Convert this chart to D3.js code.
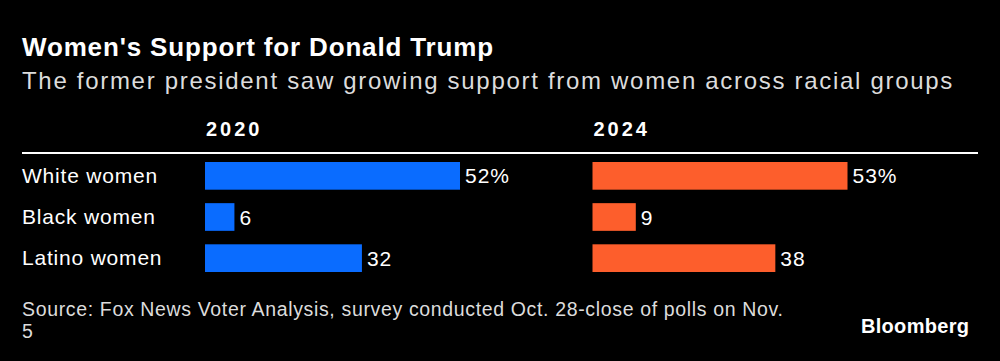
<!DOCTYPE html>
<html>
<head>
<meta charset="utf-8">
<script src="https://cdn.jsdelivr.net/npm/d3@7"></script>
<style>
  html, body { margin: 0; padding: 0; background: #000; }
  svg { display: block; font-family: "Liberation Sans", Arial, Helvetica, sans-serif; }
</style>
</head>
<body>
<div id="chart"></div>
<script>
// données
const categories = ["White women", "Black women", "Latino women"];
const years = ["2020", "2024"];
const values2020 = [52, 6, 32];
const values2024 = [53, 9, 38];
const valueLabels2020 = ["52%", "6", "32"];
const valueLabels2024 = ["53%", "9", "38"];

const width = 1000;
const height = 361;
const colors = { "2020": "#0a6cff", "2024": "#fd5e2c" };

const svg = d3.select("#chart").append("svg")
  .attr("width", width)
  .attr("height", height);

svg.append("rect").attr("width", width).attr("height", height).attr("fill", "#000");

// titre
svg.append("text")
  .attr("x", 22).attr("y", 56)
  .attr("fill", "#fff")
  .style("font-size", "26px").style("font-weight", "bold")
  .style("letter-spacing", "0.85px")
  .text("Women's Support for Donald Trump");

svg.append("text")
  .attr("x", 22).attr("y", 89)
  .attr("fill", "#dcdcdc")
  .style("font-size", "24px")
  .style("letter-spacing", "1.7px")
  .text("The former president saw growing support from women across racial groups");

// lignes
const y = d3.scaleBand()
  .domain(categories)
  .range([162, 272])
  .paddingInner(0.327);

// un x par panneau
const panels = [
  { year: "2020", values: values2020, labels: valueLabels2020, x0: 205 },
  { year: "2024", values: values2024, labels: valueLabels2024, x0: 592.5 }
];

svg.append("line")
  .attr("x1", 22).attr("x2", 978)
  .attr("y1", 153).attr("y2", 153)
  .attr("stroke", "#fff").attr("stroke-width", 2);

svg.selectAll(".cat")
  .data(categories)
  .join("text")
  .attr("class", "cat")
  .attr("x", 22)
  .attr("y", d => y(d) + y.bandwidth() / 2 + 7)
  .attr("fill", "#fff")
  .style("font-size", "21px")
  .style("letter-spacing", "0.8px")
  .text(d => d);

panels.forEach(p => {
  const x = d3.scaleLinear()
    .domain([0, d3.max(p.values)])
    .range([p.x0, p.x0 + 255]);

  svg.append("text")
    .attr("x", p.x0 + 1).attr("y", 136)
    .attr("fill", "#fff")
    .style("font-size", "20px").style("font-weight", "bold")
    .style("letter-spacing", "3px")
    .text(p.year);

  const g = svg.append("g");

  g.selectAll("rect")
    .data(p.values)
    .join("rect")
    .attr("x", x(0))
    .attr("y", (d, i) => y(categories[i]))
    .attr("width", d => x(d) - x(0))
    .attr("height", y.bandwidth())
    .attr("fill", colors[p.year]);

  g.selectAll("text")
    .data(p.values)
    .join("text")
    .attr("x", d => x(d) + 5)
    .attr("y", (d, i) => y(categories[i]) + y.bandwidth() / 2 + 7.5)
    .attr("fill", "#fff")
    .style("font-size", "21px")
    .style("letter-spacing", "1px")
    .text((d, i) => p.labels[i]);
});

// source
const source = svg.append("text")
  .attr("fill", "#dcdcdc")
  .style("font-size", "19.5px")
  .style("letter-spacing", "0.65px");
source.append("tspan").attr("x", 22).attr("y", 316)
  .text("Source: Fox News Voter Analysis, survey conducted Oct. 28-close of polls on Nov.");
source.append("tspan").attr("x", 22).attr("y", 338).text("5");

svg.append("text")
  .attr("x", 861).attr("y", 333)
  .attr("fill", "#fff")
  .style("font-size", "20px").style("font-weight", "bold")
  .style("letter-spacing", "0.3px")
  .text("Bloomberg");
</script>
</body>
</html>
